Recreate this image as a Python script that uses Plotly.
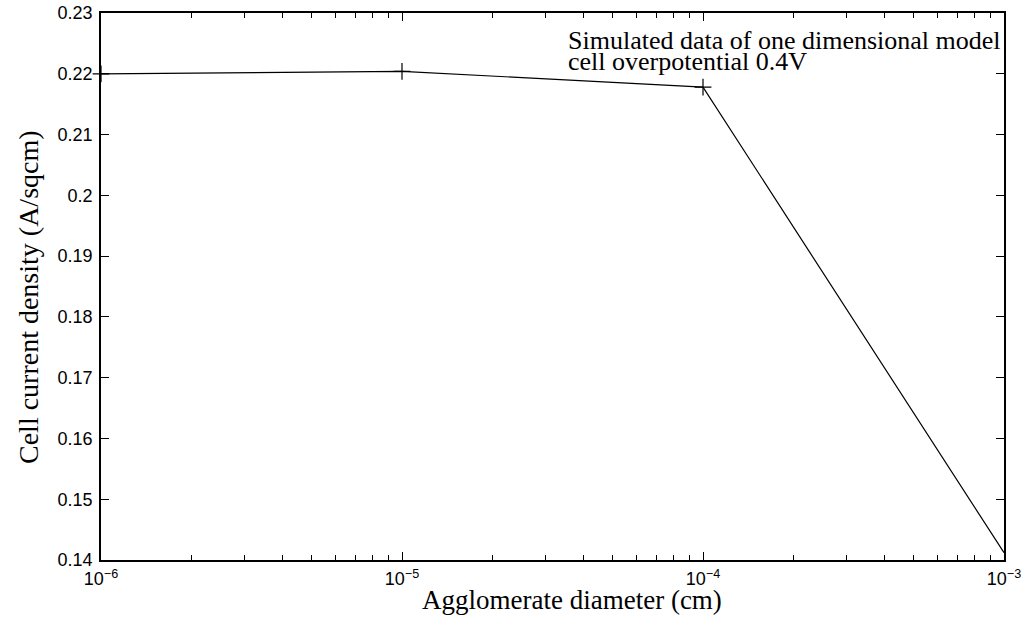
import plotly.graph_objects as go

diameter_cm = [1e-6, 1e-5, 1e-4, 1e-3]
current_density = [0.2200, 0.2204, 0.2178, 0.1412]

x_tickvals = [1e-6, 1e-5, 1e-4, 1e-3]
x_ticktext = ["10<sup>\u22126</sup>", "10<sup>\u22125</sup>", "10<sup>\u22124</sup>", "10<sup>\u22123</sup>"]
y_tickvals = [0.14, 0.15, 0.16, 0.17, 0.18, 0.19, 0.2, 0.21, 0.22, 0.23]
y_ticktext = ["0.14", "0.15", "0.16", "0.17", "0.18", "0.19", "0.2", "0.21", "0.22", "0.23"]
minor_vals = [m * 10 ** e for e in (-6, -5, -4) for m in range(2, 10)]

x_title = "Agglomerate diameter (cm)"
y_title = "Cell current density (A/sqcm)"
annotation_lines = ["Simulated data of one dimensional model", "cell overpotential 0.4V"]

# plot box in page pixels
PL, PR, PT, PB = 101, 1004, 13, 560


def fx(px):
    return (px - PL) / (PR - PL)


def fy(py):
    return (PB - py) / (PB - PT)


fig = go.Figure()
fig.add_trace(go.Scatter(
    x=diameter_cm, y=current_density, mode="lines+markers",
    line=dict(color="black", width=1.2),
    marker=dict(symbol="cross-thin", size=12, line=dict(color="black", width=1.2)),
    cliponaxis=False, showlegend=False, hoverinfo="skip",
))

serif = "Liberation Serif, Times New Roman, serif"
W, H = 1024, 620
fig.update_layout(
    width=W, height=H,
    margin=dict(l=PL, r=W - PR, t=PT, b=H - PB),
    paper_bgcolor="white", plot_bgcolor="white",
    font=dict(family="Liberation Sans, Arial", size=18, color="black"),
    xaxis=dict(
        type="log", range=[-6, -3], automargin=False,
        tickmode="array", tickvals=x_tickvals, ticktext=x_ticktext,
        tickfont=dict(size=18), ticklabeloverflow="allow", ticklabelstandoff=2,
        ticks="inside", ticklen=8, tickwidth=1, tickcolor="black",
        minor=dict(tickmode="array", tickvals=minor_vals, ticks="inside", ticklen=5, tickwidth=1, tickcolor="black"),
        showline=True, linecolor="black", linewidth=1.5, mirror="ticks",
        showgrid=False, zeroline=False,
    ),
    yaxis=dict(
        range=[0.14, 0.23], automargin=False,
        tickmode="array", tickvals=y_tickvals, ticktext=y_ticktext,
        tickfont=dict(size=18), ticklabeloverflow="allow", ticklabelstandoff=3,
        ticks="inside", ticklen=8, tickwidth=1, tickcolor="black",
        showline=True, linecolor="black", linewidth=1.5, mirror="ticks",
        showgrid=False, zeroline=False,
    ),
    annotations=[
        dict(x=fx(566), y=fy(40), xref="paper", yref="paper", xanchor="left", yanchor="middle",
             text=annotation_lines[0], showarrow=False, align="left",
             font=dict(family=serif, size=26, color="black")),
        dict(x=fx(566), y=fy(61), xref="paper", yref="paper", xanchor="left", yanchor="middle",
             text=annotation_lines[1], showarrow=False, align="left",
             font=dict(family=serif, size=26, color="black")),
        dict(x=fx(572), y=fy(600), xref="paper", yref="paper", xanchor="center", yanchor="middle",
             text=x_title, showarrow=False,
             font=dict(family=serif, size=27, color="black")),
        dict(x=fx(28), y=fy(297), xref="paper", yref="paper", xanchor="center", yanchor="middle",
             text=y_title, showarrow=False, textangle=-90,
             font=dict(family=serif, size=28, color="black")),
    ],
)

fig.write_html("out.html", config={"displayModeBar": False},
               post_script="document.body.style.margin='0';")
